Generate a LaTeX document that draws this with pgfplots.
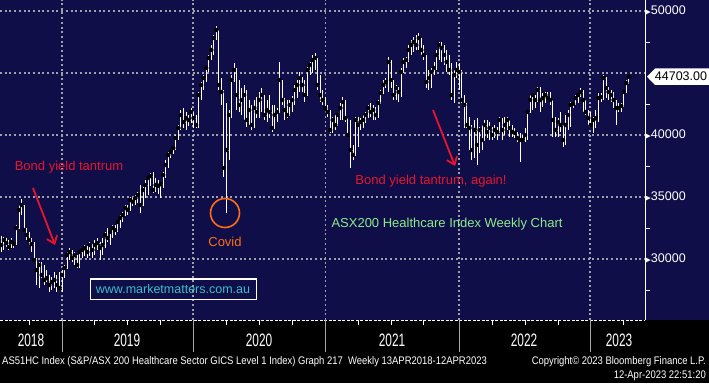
\documentclass[border=0pt]{standalone}
\usepackage{fontspec}
\setmainfont{Liberation Sans}
\newfontfamily\symf{DejaVu Sans}
\newfontfamily\condf[FakeStretch=0.86]{Liberation Sans}
\newfontfamily\yearf[FakeStretch=0.66]{Liberation Sans}
\usepackage{pgfplots}
\pgfplotsset{compat=1.18}
\usepackage{pgfplotstable}
\usetikzlibrary{arrows.meta}
\definecolor{navy}{RGB}{16,14,72}
\definecolor{gridc}{RGB}{160,160,172}
\definecolor{annred}{RGB}{232,20,45}
\definecolor{annorange}{RGB}{255,110,20}
\definecolor{anngreen}{RGB}{140,235,140}
\definecolor{annteal}{RGB}{60,190,200}
\newcommand\yl[1]{{\symf\fontsize{7.5}{8}\selectfont\char"25B6}#1}

\pgfplotstableread{
w l h c
-24 30563 31853 31128
-23 30724 31773 31531
-22 30966 31692 31289
-21 30724 31531 30966
-20 31047 31692 31370
-19 30886 31370 31208
-18 31128 32741 32499
-17 32499 34354 33951
-16 33547 34838 34354
-15 32176 34354 32337
-14 31531 32499 31934
-13 31128 32176 31531
-12 30563 31692 31208
-11 29757 31370 29918
-10 27902 30080 29112
-9 27660 29757 29515
-8 28467 29757 28709
-7 27902 29515 28305
-6 28144 29112 28467
-5 27338 28709 27902
-4 27499 28547 28144
-3 27660 28951 28305
-2 27338 28709 27902
-1 27499 28951 27660
0 27338 29112 28709
1 28467 29515 29273
2 29273 30563 30321
3 29918 30886 30563
4 29757 30724 30080
5 29515 30563 30321
6 29273 30321 29515
7 29273 30724 30563
8 30080 30886 30724
9 30241 31128 30886
10 30080 31047 30563
11 30241 31370 31128
12 30080 31208 30724
13 30321 31531 31128
14 30724 31692 31289
15 29918 31370 30886
16 30321 31692 31128
17 30886 32176 31934
18 31370 32499 31692
19 31128 32337 32176
20 31692 32741 32499
21 31934 32741 32337
22 32176 33144 32983
23 32499 33547 33305
24 32983 33789 33547
25 33467 34354 34112
26 33547 34354 33951
27 34112 34999 34757
28 34273 34918 34596
29 34354 35160 34918
30 34515 35402 35160
31 33709 35967 34354
32 34757 35805 35563
33 34918 36370 35967
34 35160 36693 36531
35 35886 36934 36693
36 35322 37015 35563
37 35402 36531 35967
38 35241 36370 35886
39 34918 36209 36047
40 35725 37015 36773
41 36531 37983 37580
42 37338 38628 38386
43 38144 38790 38628
44 38467 39112 38951
45 38790 39999 39757
46 39596 40806 40564
47 40403 42016 41612
48 40564 42177 41048
49 40403 41854 41370
50 40725 41612 41209
51 40967 42177 41854
52 40564 41854 41370
53 40564 41612 40806
54 40564 43467 43225
55 42822 44274 44032
56 43629 44838 44596
57 44274 45564 45403
58 45080 46451 46209
59 46048 47258 46855
60 46451 48064 47822
61 47661 48790 48468
62 43629 48468 44032
63 42419 44596 43467
64 36612 43629 37338
65 33709 42580 38790
66 37983 42016 41612
67 41370 44838 44435
68 44274 45806 45242
69 42016 45403 43225
70 41854 44435 42419
71 41612 43790 42822
72 41209 44032 43225
73 40644 43629 41209
74 40806 42822 42016
75 40403 42419 40806
76 40564 42822 42177
77 41370 43064 41854
78 41370 43467 42822
79 41854 43790 43225
80 41209 43225 41612
81 41048 42822 42016
82 41370 43225 41854
83 40241 42419 40564
84 40806 42419 41612
85 41048 42177 41854
86 42177 45887 44435
87 42419 44435 42822
88 41209 42983 42016
89 41370 42822 41612
90 41612 42822 42419
91 41854 43145 42822
92 42419 44032 43629
93 42983 44435 44032
94 43467 45080 44596
95 43467 44677 44032
96 42661 44435 43225
97 44435 45484 45242
98 44838 45887 45645
99 45000 46451 46048
100 45242 46613 46209
101 43629 46048 44032
102 42661 44838 43225
103 42419 43629 42822
104 42016 43064 42177
105 41451 42419 41854
106 40161 42016 40403
107 40161 41451 41209
108 40403 41612 40806
109 40806 41774 41612
110 41209 42580 42177
111 41209 43064 42661
112 41048 42822 41370
113 39838 41370 39999
114 37338 41209 38790
115 37983 39193 38386
116 38386 41451 41209
117 39032 41451 40806
118 40403 41370 41048
119 40564 41612 41209
120 40967 41854 41612
121 41370 42419 42177
122 41451 42580 41854
123 41209 42419 42016
124 41209 42258 41612
125 41370 42822 42580
126 42580 43629 43387
127 43629 44435 44032
128 43790 44596 44274
129 43467 46290 45887
130 43790 46048 44435
131 42822 44193 43225
132 42822 44032 43790
133 42661 43871 43467
134 43064 45403 45080
135 45000 46209 45887
136 45403 46290 46048
137 45887 47258 46855
138 46451 47661 47258
139 46693 47903 47500
140 46855 48064 47258
141 46855 48226 47822
142 46451 47822 46855
143 46048 47258 46451
144 43790 46451 44274
145 43629 45242 44596
146 43790 45403 45080
147 44838 45887 45403
148 45242 46855 46451
149 46048 47500 47258
150 45887 47500 47016
151 45645 47258 46451
152 45080 46855 45887
153 44838 46451 45242
154 42822 45806 43225
155 42580 45242 44838
156 44596 45887 45242
157 43629 45806 45080
158 42580 45242 42822
159 40564 43225 42419
160 40564 42580 40806
161 38790 41451 40564
162 37983 40806 38790
163 38144 41209 40403
164 37580 41370 39193
165 38548 40644 40403
166 38790 40806 39596
167 39596 41209 40806
168 39757 41209 40241
169 39596 41048 40564
170 39596 40644 39999
171 39757 40806 40403
172 39596 40644 40241
173 40644 41451 41209
174 39596 41370 40403
175 39999 41451 40806
176 40403 41451 41209
177 39838 41048 40564
178 39838 40806 40241
179 39757 40564 40161
180 39435 40241 39757
181 37822 40161 39596
182 39435 39999 39596
183 39435 40564 39999
184 39596 42016 41854
185 41854 43225 42822
186 42016 43387 43225
187 42177 43225 42822
188 42661 43871 43629
189 41854 43871 42822
190 42258 43387 42983
191 42580 43467 43225
192 42822 43467 42983
193 42419 43467 42822
194 39838 42419 41209
195 39838 41451 40403
196 39838 41370 41048
197 40241 41854 40806
198 39032 40806 39596
199 39193 41612 40806
200 40403 42016 41612
201 40644 42661 42419
202 42177 42661 42500
203 42419 43225 42983
204 42580 43387 43225
205 43064 43790 43467
206 41854 43629 42822
207 41612 42822 41854
208 40806 42016 41370
209 40644 41854 40806
210 40161 41451 41209
211 40564 42016 41370
212 41048 43387 42983
213 42661 43387 43064
214 42822 44838 44596
215 42983 44677 43790
216 42822 43871 43467
217 42661 43629 43225
218 42177 43467 42822
219 40806 42822 42177
220 41854 42580 42177
221 41854 42580 42338
222 42580 43629 43467
223 43467 44435 44193
224 44274 44838 44703
}\ohlc

\begin{document}
\begin{tikzpicture}
\useasboundingbox (0pt,0pt) rectangle (709pt,383pt);
\fill[black] (0pt,0pt) rectangle (709pt,383pt);
\fill[navy] (0pt,63pt) rectangle (709pt,383pt);
\begin{axis}[
  at={(0pt,63pt)}, anchor=south west,
  scale only axis, width=645pt, height=320pt,
  xmin=-24.5, xmax=230.4, ymin=25079, ymax=50887,
  axis x line*=bottom, axis y line*=right,
  x axis line style={white, line width=0.8pt, dash pattern=on 3pt off 1.5pt},
  y axis line style={white, line width=1pt},
  xtick={0,51.8,104,156.9,208.7}, xticklabels={},
  minor xtick={-13,13,26,39,65,78,91,117,130,143,170,183,196,222},
  ytick={30000,35000,40000,45000,50000},
  yticklabels={\yl{30000},\yl{35000},\yl{40000},{},\yl{50000}},
  scaled y ticks=false, scaled x ticks=false,
  minor ytick={27500,32500,37500,42500,47500},
  tick align=outside, major tick length=0pt, minor tick length=5pt,
  tick style={white, line width=0.8pt},
  yticklabel style={anchor=west, inner sep=0pt, text=white, font=\fontsize{12.5}{13}\selectfont},
  grid=major,
  major grid style={gridc, line width=1.3pt, dash pattern=on 2pt off 2.7pt},
]
\addplot[only marks, mark=none, forget plot,
  error bars/.cd, y dir=both, y explicit, error mark=none,
  error bar style={draw=white, line width=0.9pt}]
  table[x=w, y=c, y error plus expr=\thisrow{h}-\thisrow{c}, y error minus expr=\thisrow{c}-\thisrow{l}] {\ohlc};
\addplot[white, line width=0.9pt, const plot mark left] table[x=w, y=c] {\ohlc};
\end{axis}
% year separators
\foreach \xx in {62,193,325,459,590} {\draw[gray!70, line width=0.6pt] (\xx pt,63pt) -- (\xx pt,31pt);}
% year labels
\foreach \xx/\yy in {31/2018,127/2019,259/2020,392/2021,524/2022,619/2023}
  {\node[white, inner sep=0pt, font=\yearf\fontsize{18}{18}\selectfont] at (\xx pt,43pt) {\yy};}
% footer
\node[white, anchor=west, inner sep=0pt, font=\condf\fontsize{11}{12}\selectfont] at (2pt,21pt) {AS51HC Index (S\&P/ASX 200 Healthcare Sector GICS Level 1 Index) Graph 217~~Weekly 13APR2018-12APR2023};
\node[white, anchor=east, inner sep=0pt, font=\condf\fontsize{11}{12}\selectfont] at (706pt,21pt) {Copyright\textcopyright{} 2023 Bloomberg Finance L.P.};
\node[white, anchor=east, inner sep=0pt, font=\condf\fontsize{11}{12}\selectfont] at (706pt,7pt) {12-Apr-2023 22:51:20};
% last price label
\fill[white] (647pt,306.3pt) -- (655pt,314.5pt) -- (709pt,314.5pt) -- (709pt,298pt) -- (655pt,298pt) -- cycle;
\node[black, inner sep=0pt, font=\fontsize{12.5}{13}\selectfont] at (681pt,306.3pt) {44703.00};
% annotations
\node[annred, inner sep=0pt, font=\fontsize{13}{13}\selectfont] at (69pt,216pt) {Bond yield tantrum};
\draw[annred, line width=1.8pt, -{Straight Barb[length=7pt,width=11pt]}] (33pt,195pt) -- (55pt,138pt);
\node[annorange, inner sep=0pt, font=\fontsize{13}{13}\selectfont] at (225pt,141pt) {Covid};
\draw[annorange, line width=1.6pt] (225pt,170pt) circle (14.5pt);
\node[annred, inner sep=0pt, font=\fontsize{13}{13}\selectfont] at (431pt,202pt) {Bond yield tantrum, again!};
\draw[annred, line width=1.8pt, -{Straight Barb[length=7pt,width=11pt]}] (433pt,273pt) -- (455pt,217pt);
\node[anngreen, inner sep=0pt, font=\fontsize{13}{13}\selectfont] at (447pt,159pt) {ASX200 Healthcare Index Weekly Chart};
\draw[white, line width=1pt] (90pt,84pt) rectangle (256pt,104pt);
\node[annteal, inner sep=0pt, font=\fontsize{12.5}{13}\selectfont] at (173pt,94pt) {www.marketmatters.com.au};
\end{tikzpicture}
\end{document}
